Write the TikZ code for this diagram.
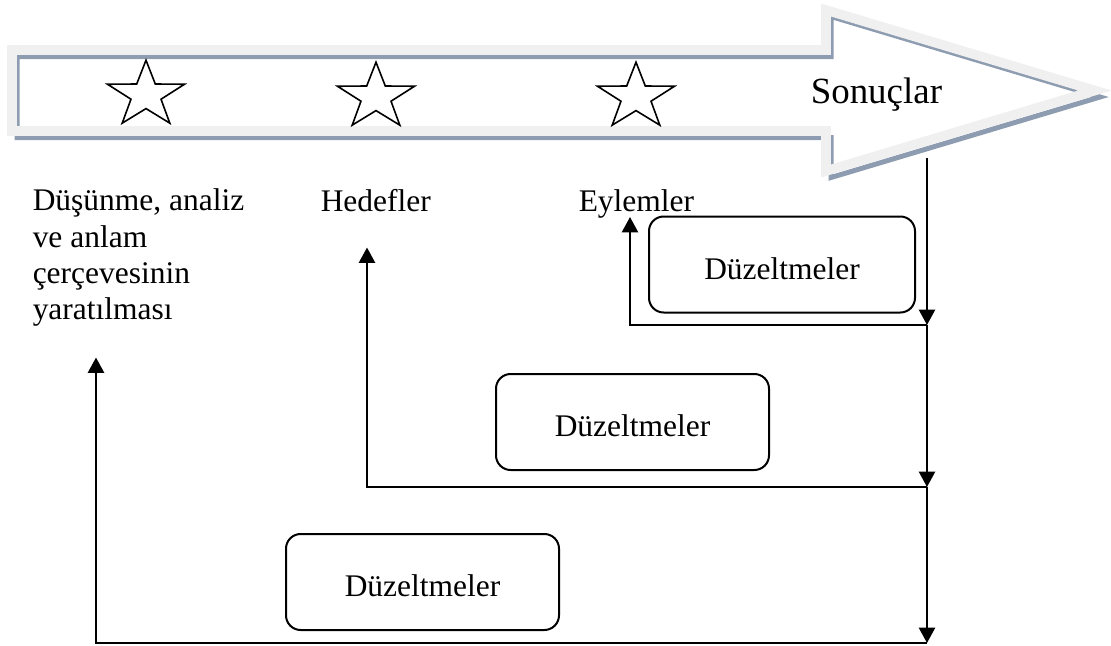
\documentclass[tikz,border=0pt]{standalone}
\usepackage{fontspec}
\setmainfont{Liberation Serif}
\usetikzlibrary{arrows.meta}
\definecolor{lightband}{HTML}{F0F0F0}
\definecolor{slateband}{HTML}{8D9CB0}
\begin{document}
\begin{tikzpicture}[x=0.75pt,y=-0.75pt,
  conn/.style={line width=1.8pt,draw=black},
  tipend/.style={-{Triangle[width=12pt,length=11.5pt]}},
  box/.style={draw=black,line width=1.5pt,rounded corners=11pt,minimum height=72pt,
    inner sep=0pt,text height=22.2pt,text depth=0pt,font=\fontsize{23.6}{27}\selectfont},
  lbl/.style={inner sep=0pt,font=\fontsize{23.6}{27.3}\selectfont},
  starline/.style={draw=black,line width=1.2pt,line join=miter},
  pics/mystar/.style={code={
    \draw[starline] (-90:40.5 and 34.8) -- (-54:15.8 and 13.6) -- (-18:40.5 and 34.8)
      -- (18:15.8 and 13.6) -- (54:40.5 and 34.8) -- (90:15.8 and 13.6)
      -- (126:40.5 and 34.8) -- (162:15.8 and 13.6) -- (198:40.5 and 34.8)
      -- (234:15.8 and 13.6) -- cycle;}}
]
\useasboundingbox (0,0) rectangle (1111,646);

% block arrow: shadow band then light band
\draw[slateband,line width=3.75pt,line join=miter,shift={(5,6.5)}]
  (12,50) -- (826,50) -- (826,10) -- (1095,90.5) -- (826,171) -- (826,131) -- (12,131) -- cycle;
\draw[lightband,line width=7.2pt,line join=miter]
  (12,50) -- (826,50) -- (826,10) -- (1095,90.5) -- (826,171) -- (826,131) -- (12,131) -- cycle;

% stars
\pic at (146,95) {mystar};
\pic at (376,97) {mystar};
\pic at (636,97) {mystar};

\node[inner sep=0pt,anchor=base west,font=\fontsize{27.7}{30}\selectfont] (son) at (810.5,103.3) {Sonuçlar};

% labels
\node[lbl,anchor=north west,align=left] (dus) at (32.5,188.5)
  {Düşünme, analiz\\ve anlam\\çerçevesinin\\yaratılması};
\node[lbl,anchor=base west] (hed) at (320.5,211.5) {Hedefler};
\node[lbl,anchor=base west] (eyl) at (578.5,211.5) {Eylemler};

% boxes
\node[box,minimum width=199.5pt] (d1) at (782,264.5) {Düzeltmeler};
\node[box,minimum width=204.75pt] (d2) at (632.5,422) {Düzeltmeler};
\node[box,minimum width=204.75pt] (d3) at (422.5,582) {Düzeltmeler};

% connector points
\coordinate (top) at (927,158);
\coordinate (j1) at (927,325);
\coordinate (j2) at (927,487);
\coordinate (j3) at (927,643);
\coordinate (e1) at (630,217);
\coordinate (e2) at (367,247.5);
\coordinate (e3) at (96,357.5);

\draw[conn,tipend] (top) -- (j1);
\draw[conn,tipend] (j1) -- (j2);
\draw[conn,tipend] (j2) -- (j3);
\draw[conn,tipend] (j1) -| (e1);
\draw[conn,tipend] (j2) -| (e2);
\draw[conn,tipend] (j3) -| (e3);
\end{tikzpicture}
\end{document}
